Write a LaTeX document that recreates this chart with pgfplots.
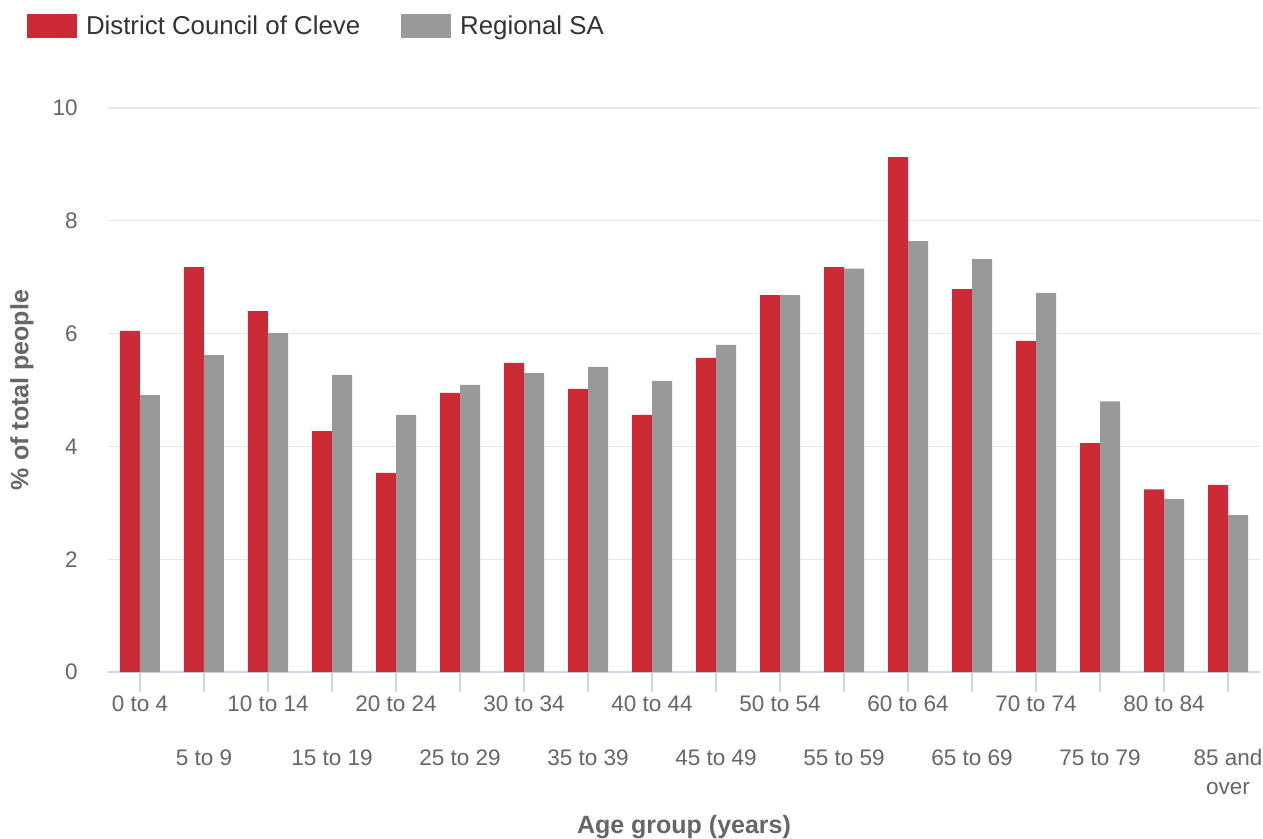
\documentclass[border=0pt]{standalone}
\usepackage{fontspec}
\setmainfont{Liberation Sans}
\usepackage{pgfplots}
\pgfplotsset{compat=1.18}
\definecolor{cred}{RGB}{204,42,54}
\definecolor{cgray}{RGB}{153,153,153}
\definecolor{tcol}{RGB}{102,102,102}
\definecolor{lcol}{RGB}{51,51,51}
\definecolor{gridc}{RGB}{230,230,230}
\definecolor{axc}{RGB}{204,214,235}
\pgfplotstableread{
x cleve regional
0 6.05 4.91
1 7.18 5.62
2 6.40 6.01
3 4.27 5.27
4 3.53 4.56
5 4.95 5.09
6 5.48 5.30
7 5.02 5.41
8 4.56 5.16
9 5.57 5.80
10 6.68 6.68
11 7.18 7.15
12 9.13 7.64
13 6.79 7.32
14 5.87 6.72
15 4.06 4.80
16 3.24 3.07
17 3.32 2.78
}\datatable
\begin{document}
\begin{tikzpicture}
\useasboundingbox (-64.8pt,-100.2pt) rectangle (693pt,403.2pt);
\begin{axis}[
  scale only axis, width=691.2pt, height=338.4pt,
  xmin=-0.5, xmax=17.5, ymin=0, ymax=10,
  ybar=0pt, bar width=12pt,
  separate axis lines,
  axis x line*=bottom, axis y line*=left,
  x axis line style={axc, line width=1pt},
  y axis line style={draw=none},
  ymajorgrids, grid style={gridc, line width=0.7pt},
  ytick={0,2,...,10},
  ytick style={draw=none},
  tick align=outside, major tick length=12pt,
  xtick style={axc, line width=1pt},
  xtick={0,2,...,16},
  xticklabels={0 to 4,10 to 14,20 to 24,30 to 34,40 to 44,50 to 54,60 to 64,70 to 74,80 to 84},
  extra x ticks={1,3,...,17},
  extra x tick labels={5 to 9,15 to 19,25 to 29,35 to 39,45 to 49,55 to 59,65 to 69,75 to 79,{85 and\\over}},
  extra x tick style={xticklabel style={yshift=-32.4pt}},
  xticklabel style={font=\fontsize{13.5}{17}\selectfont, text=tcol, align=center, inner sep=0pt, yshift=-2pt},
  yticklabel style={font=\fontsize{13.5}{16}\selectfont, text=tcol, inner sep=0pt, xshift=-6pt},
  /pgf/number format/assume math mode=true,
  xlabel={Age group (years)},
  ylabel={\% of total people},
  xlabel style={font=\bfseries\fontsize{15}{18}\selectfont, text=tcol, at={(axis description cs:0.5,-0.275)}, anchor=center},
  ylabel style={font=\bfseries\fontsize{15}{18}\selectfont, text=tcol, at={(axis description cs:-0.0747,0.5)}, anchor=center},
  legend columns=-1,
  legend style={at={(axis description cs:-0.0703,1.1667)}, anchor=north west, draw=none, fill=none, inner sep=0pt, outer sep=0pt, nodes={inner sep=0pt}, font=\fontsize{15.5}{18}\selectfont, text=lcol, /tikz/every odd column/.append style={column sep=5.4pt}, /tikz/every even column/.append style={column sep=24.6pt}},
]
\addplot[fill=cred, draw=none, legend image code/.code={\fill[cred] (0pt,-7.2pt) rectangle (30pt,7.2pt);}] table[x=x, y=cleve] {\datatable};
\addplot[fill=cgray, draw=none, legend image code/.code={\fill[cgray] (0pt,-7.2pt) rectangle (30pt,7.2pt);}] table[x=x, y=regional] {\datatable};
\legend{District Council of Cleve, Regional SA}
\end{axis}
\end{tikzpicture}
\end{document}
